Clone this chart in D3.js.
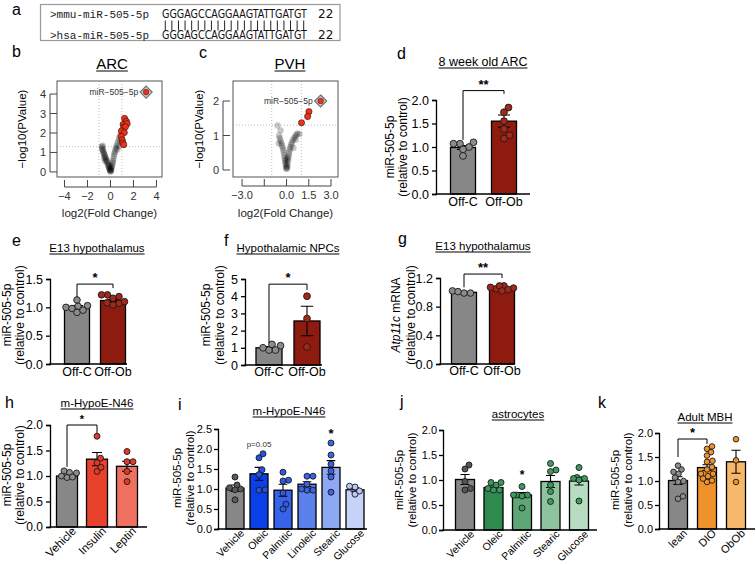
<!DOCTYPE html>
<html><head><meta charset="utf-8">
<script src="https://cdn.jsdelivr.net/npm/d3@7"></script>
<style>body{margin:0;background:#fff}svg{display:block}</style>
</head><body>
<svg id="fig" width="756" height="564"></svg>
<script>
// ================= DATA =================
const seqNames = [">mmu-miR-505-5p", ">hsa-miR-505-5p"];
const seqs = ["GGGAGCCAGGAAGTATTGATGT", "GGGAGCCAGGAAGTATTGATGT"];
const seqLens = ["22", "22"];

// volcano: [log2 fold change, -log10 p]
const arcGray = [[0.00,0.02],[0.03,0.05],[-0.03,0.06],[0.06,0.10],[-0.06,0.11],[0.01,0.14],[-0.10,0.17],[0.09,0.19],[-0.13,0.23],[0.04,0.24],[-0.17,0.29],[0.13,0.30],[-0.20,0.35],[0.16,0.39],[-0.24,0.42],[-0.08,0.33],[-0.28,0.50],[0.19,0.47],[-0.32,0.56],[-0.36,0.62],[0.22,0.57],[-0.40,0.68],[-0.44,0.75],[0.26,0.68],[-0.48,0.81],[-0.52,0.87],[-0.56,0.93],[-0.60,0.99],[-0.63,1.05],[-0.66,1.11],[-0.70,1.17],[-0.72,1.24],[-0.75,1.30],[-0.68,1.35],[0.30,0.82],[0.34,0.93],[0.38,1.03],[0.43,1.14],[0.48,1.24],[0.54,1.34],[0.60,1.46],[0.68,1.60],[0.76,1.74],[0.84,1.90],[0.90,1.56],[0.74,1.30],[0.60,1.15],[-0.55,0.70],[-0.45,0.55]];
const arcUp = [[1.22,2.75],[1.38,2.60],[1.10,2.44],[1.45,2.48],[1.15,2.30],[1.30,2.32],[0.95,2.10],[1.20,2.02],[0.93,1.82],[1.02,1.65],[1.07,1.50],[1.15,1.40]];
const arcMir = [[3.1, 4.1]];
const arcXTicks = [-4, -2, 0, 2, 4];
const arcXTickLabels = ["−4", "−2", "0", "2", "4"];
const arcYTicks = [0, 1, 2, 3, 4];

const pvhGray = [[0.00,0.03],[0.03,0.06],[-0.03,0.07],[0.06,0.11],[-0.05,0.12],[0.02,0.17],[-0.08,0.20],[0.08,0.22],[-0.10,0.27],[0.11,0.30],[-0.12,0.34],[0.13,0.38],[-0.15,0.42],[0.16,0.45],[-0.18,0.50],[0.19,0.53],[-0.22,0.58],[0.22,0.60],[-0.26,0.65],[0.26,0.67],[-0.30,0.71],[0.31,0.73],[-0.35,0.78],[0.36,0.79],[-0.40,0.85],[0.42,0.86],[-0.46,0.92],[0.50,0.92],[-0.50,1.00],[0.58,0.97],[0.66,1.02],[0.74,1.06],[0.88,1.04],[0.62,0.88],[-0.52,0.77],[-0.60,1.29],[-0.40,1.15],[0.46,0.64],[0.05,0.35],[-0.02,0.28]];
const pvhUp = [[1.51,1.69],[1.42,1.55],[1.01,1.37]];
const pvhMir = [[2.3, 2.0]];
const pvhXTicks = [-3, -1.5, 0, 1.5, 3];
const pvhXTickLabels = ["−3.0", "", "0.0", "1.5", "3.0"];
const pvhYTicks = [0, 1, 2];
const mirLabel = "miR−505−5p";
const fcCut = [-1, 1];
const pCut = 1.3;

// d: 8 week old ARC
const dCats = ["Off-C", "Off-Ob"];
const dMeans = [0.99, 1.55];
const dSems = [0.04, 0.13];
const dPts = [[1.07, 1.10, 1.07, 1.0, 0.95, 0.81], [1.84, 1.74, 1.55, 1.38, 1.18, 1.25]];
const dTicks = [0, 0.5, 1.0, 1.5, 2.0];

// e: E13 hypothalamus (miR)
const eCats = ["Off-C", "Off-Ob"];
const eMeans = [1.0, 1.12];
const eSems = [0.03, 0.02];
const ePts = [[1.02, 1.03, 1.13, 1.0, 0.98, 0.91, 0.95], [1.16, 1.19, 1.22, 1.22, 1.07, 1.10, 1.04, 1.08]];
const eTicks = [0, 0.5, 1.0, 1.5];

// f: Hypothalamic NPCs
const fCats = ["Off-C", "Off-Ob"];
const fMeans = [1.0, 2.56];
const fSems = [0.07, 0.86];
const fPts = [[1.12, 0.87, 1.0, 1.2, 0.87], [4.0, 2.7, 1.05]];
const fTicks = [0, 1, 2, 3, 4, 5];

// g: E13 hypothalamus (Atp11c)
const gCats = ["Off-C", "Off-Ob"];
const gMeans = [1.0, 1.06];
const gSems = [0.01, 0.01];
const gPts = [[0.99, 1.02, 1.01, 0.99], [1.06, 1.09, 1.05, 1.07, 1.09, 1.04, 1.02]];
const gTicks = [0, 0.4, 0.8, 1.2];

// h: m-HypoE-N46 hormones
const hCats = ["Vehicle", "Insulin", "Leptin"];
const hMeans = [1.0, 1.33, 1.19];
const hSems = [0.02, 0.13, 0.1];
const hPts = [[1.0, 1.07, 1.1, 1.06, 0.97, 0.98], [1.78, 1.26, 1.09, 1.17, 1.35], [1.48, 1.28, 1.28, 1.09, 0.89]];
const hTicks = [0, 0.5, 1.0, 1.5, 2.0];

// i: m-HypoE-N46 fatty acids
const iCats = ["Vehicle", "Oleic", "Palmitic", "Linoleic", "Stearic", "Glucose"];
const iMeans = [1.02, 1.38, 0.97, 1.12, 1.54, 0.98];
const iSems = [0.08, 0.16, 0.15, 0.06, 0.17, 0.05];
const iPts = [[1.3, 1.0, 1.03, 1.1, 0.73, 0.98], [1.78, 1.88, 1.48, 1.36, 0.97, 0.98], [1.42, 1.22, 1.2, 0.9, 0.62, 0.5], [1.32, 1.32, 1.12, 0.97, 0.97, 1.0], [2.15, 1.85, 1.62, 1.45, 1.3, 0.92], [1.05, 1.07, 0.87, 0.95]];
const iTicks = [0, 0.5, 1.0, 1.5, 2.0, 2.5];

// j: astrocytes
const jCats = ["Vehicle", "Oleic", "Palmitic", "Stearic", "Glucose"];
const jMeans = [1.01, 0.85, 0.7, 0.97, 0.98];
const jSems = [0.1, 0.03, 0.05, 0.12, 0.08];
const jPts = [[1.3, 1.22, 0.97, 0.8, 0.83], [0.9, 0.95, 0.95, 0.8, 0.8, 0.83], [0.87, 0.7, 0.68, 0.7, 0.7, 0.44], [1.33, 1.2, 1.17, 0.77, 0.57, 0.9], [1.25, 1.05, 1.03, 1.03, 1.0, 0.58]];
const jTicks = [0, 0.5, 1.0, 1.5, 2.0];

// k: Adult MBH
const kCats = ["lean", "DIO", "ObOb"];
const kMeans = [1.01, 1.28, 1.4];
const kSems = [0.08, 0.06, 0.24];
const kPts = [[1.19, 1.24, 1.15, 1.32, 0.98, 1.07, 1.0, 0.63, 0.68], [1.67, 1.72, 1.53, 1.6, 1.4, 1.42, 1.24, 1.29, 1.15, 1.15, 0.98, 1.01, 1.1, 1.05], [1.87, 1.43, 0.98]];
const kTicks = [0, 0.5, 1.0, 1.5, 2.0];

// ================= DRAWING =================
const FONT = "'Liberation Sans', Arial, Helvetica, sans-serif";
const svg = d3.select("#fig");
const GRAY = "#878787", DRED = "#8e1b10";

function panelLabel(t, x, y) {
  svg.append("text").attr("x", x).attr("y", y).attr("font-family", FONT).attr("font-size", 16).text(t);
}
function title(t, cx, by, size) {
  const el = svg.append("text").attr("x", cx).attr("y", by).attr("text-anchor", "middle")
    .attr("font-family", FONT).attr("font-size", size).text(t);
  const w = el.node().getComputedTextLength();
  svg.append("line").attr("x1", cx - w / 2).attr("x2", cx + w / 2).attr("y1", by + 2).attr("y2", by + 2)
    .attr("stroke", "#000").attr("stroke-width", 1);
}
function ylab(lines, xs, cy, size) {
  lines.forEach((ln, k) => {
    const t = svg.append("text").attr("transform", `translate(${xs[k]},${cy}) rotate(-90)`)
      .attr("text-anchor", "middle").attr("dominant-baseline", "central")
      .attr("font-family", FONT).attr("font-size", size || 12);
    ln.forEach(seg => t.append("tspan").attr("font-style", seg[1] ? "italic" : "normal").text(seg[0]));
  });
}

// ---- panel a ----
panelLabel("a", 12, 15);
const seqX0 = 162, seqW = 145, rowY = [18, 38.5];
const charW = seqW / seqs[0].length;
const lenX = seqX0 + seqW + 11;
svg.append("rect").attr("x", 40.5).attr("y", 4.5).attr("width", lenX + 22 - 40.5).attr("height", 36)
  .attr("fill", "none").attr("stroke", "#9a9a9a").attr("stroke-width", 1.2);
seqNames.forEach((n, k) => {
  svg.append("text").attr("x", 50).attr("y", rowY[k]).attr("font-family", "'Liberation Mono', 'DejaVu Sans Mono', monospace")
    .attr("font-size", 11).attr("fill", "#222").text(n);
  // sequence squeezed horizontally to a fixed pitch
  const sg = svg.append("g");
  const st = sg.append("text").attr("x", 0).attr("y", 0)
    .attr("font-family", "'DejaVu Sans Condensed', 'DejaVu Sans', sans-serif").attr("font-size", 12.5)
    .attr("fill", "#111").text(seqs[k]);
  const nat = st.node().getComputedTextLength();
  sg.attr("transform", `translate(${seqX0},${rowY[k]}) scale(${seqW / nat},1)`);
  svg.append("text").attr("x", lenX).attr("y", rowY[k]).attr("font-family", "'DejaVu Sans', Verdana, sans-serif")
    .attr("font-size", 12).attr("fill", "#111").text(seqLens[k]);
});
svg.selectAll(null).data(seqs[0].split("")).join("line")
  .attr("x1", (d, i) => seqX0 + (i + 0.5) * charW).attr("x2", (d, i) => seqX0 + (i + 0.5) * charW)
  .attr("y1", 20.5).attr("y2", 30.5).attr("stroke", "#222").attr("stroke-width", 1);

// ---- volcano ----
function volcano(c) {
  const x = d3.scaleLinear().domain(c.xdom).range([c.box[0], c.box[1]]);
  const y = d3.scaleLinear().domain(c.ydom).range([c.box[3], c.box[2]]);
  const g = svg.append("g").attr("font-family", FONT);
  fcCut.forEach(v => g.append("line").attr("x1", x(v)).attr("x2", x(v)).attr("y1", c.box[2]).attr("y2", c.box[3])
    .attr("stroke", "#bdbdbd").attr("stroke-width", 1).attr("stroke-dasharray", "1,2"));
  g.append("line").attr("x1", c.box[0]).attr("x2", c.box[1]).attr("y1", y(pCut)).attr("y2", y(pCut))
    .attr("stroke", "#bdbdbd").attr("stroke-width", 1).attr("stroke-dasharray", "1,2");
  g.selectAll(null).data(c.gray).join("circle").attr("cx", d => x(d[0])).attr("cy", d => y(d[1])).attr("r", 3.2)
    .attr("fill", "#000").attr("fill-opacity", 0.22);
  g.selectAll(null).data(c.up).join("circle").attr("cx", d => x(d[0])).attr("cy", d => y(d[1])).attr("r", 3.1)
    .attr("fill", "#e8341c").attr("stroke", "#3a0a05").attr("stroke-width", 0.6);
  c.mir.forEach(d => {
    const px = x(d[0]), py = y(d[1]);
    g.append("path").attr("d", `M${px},${py - 6}L${px + 6},${py}L${px},${py + 6}L${px - 6},${py}Z`)
      .attr("fill", "#cfcfcf").attr("stroke", "#6e6e6e").attr("stroke-width", 1.2);
    g.append("circle").attr("cx", px).attr("cy", py).attr("r", 2.8).attr("fill", "#e8341c").attr("stroke", "#3a0a05").attr("stroke-width", 0.5);
    g.append("text").attr("x", px - 8).attr("y", py).attr("dominant-baseline", "central").attr("text-anchor", "end")
      .attr("font-size", 8.5).attr("fill", "#333").text(mirLabel);
  });
  g.append("rect").attr("x", c.box[0]).attr("y", c.box[2]).attr("width", c.box[1] - c.box[0]).attr("height", c.box[3] - c.box[2])
    .attr("fill", "none").attr("stroke", "#555").attr("stroke-width", 1);
  g.append("line").attr("x1", x(c.xt[0])).attr("x2", x(c.xt[c.xt.length - 1])).attr("y1", c.xAxisY).attr("y2", c.xAxisY).attr("stroke", "#444");
  c.xt.forEach((v, i) => {
    g.append("line").attr("x1", x(v)).attr("x2", x(v)).attr("y1", c.xAxisY).attr("y2", c.xAxisY - 7).attr("stroke", "#444");
    g.append("text").attr("x", x(v)).attr("y", c.xAxisY + 13).attr("text-anchor", "middle").attr("font-size", 11).attr("fill", "#333").text(c.xtl[i]);
  });
  g.append("line").attr("y1", y(c.yt[0])).attr("y2", y(c.yt[c.yt.length - 1])).attr("x1", c.yAxisX).attr("x2", c.yAxisX).attr("stroke", "#444");
  c.yt.forEach(v => {
    g.append("line").attr("y1", y(v)).attr("y2", y(v)).attr("x1", c.yAxisX).attr("x2", c.yAxisX + 7).attr("stroke", "#444");
    g.append("text").attr("x", c.yAxisX - 4).attr("y", y(v)).attr("dominant-baseline", "central").attr("text-anchor", "end")
      .attr("font-size", 11).attr("fill", "#333").text(String(v));
  });
  g.append("text").attr("x", (c.box[0] + c.box[1]) / 2).attr("y", 217).attr("text-anchor", "middle").attr("font-size", 11.5).attr("fill", "#222").text("log2(Fold Change)");
  ylab([[["−log10(PValue)", false]]], [c.ylabX], 129, 11.5);
  title(c.title, c.titleX, 69, 15);
}

panelLabel("b", 12, 57);
volcano({ box: [57, 162, 81, 177], xdom: [-4.65, 4.48], ydom: [-0.26, 4.67], gray: arcGray, up: arcUp, mir: arcMir,
  xt: arcXTicks, xtl: arcXTickLabels, yt: arcYTicks, xAxisY: 187, yAxisX: 50, ylabX: 22, title: "ARC", titleX: 112 });
panelLabel("c", 199, 58);
volcano({ box: [233, 338, 81, 177], xdom: [-3.61, 3.47], ydom: [-0.203, 2.58], gray: pvhGray, up: pvhUp, mir: pvhMir,
  xt: pvhXTicks, xtl: pvhXTickLabels, yt: pvhYTicks, xAxisY: 186, yAxisX: 223, ylabX: 199, title: "PVH", titleX: 290 });

// ---- bar panels ----
function swarm(vals, y, r, maxOff) {
  const idx = vals.map((_, i) => i).sort((a, b) => vals[a] - vals[b]);
  const placed = [], out = new Array(vals.length).fill(0);
  const minD = 2 * r * 0.92;
  idx.forEach(i => {
    const py = y(vals[i]);
    let chosen = null;
    for (let k = 0; k <= 60 && chosen === null; k++) {
      const cands = k === 0 ? [0] : [k * 0.5, -k * 0.5];
      for (const cc of cands) {
        if (Math.abs(cc) > maxOff) continue;
        if (placed.every(p => (p.x - cc) ** 2 + (p.y - py) ** 2 >= minD * minD)) { chosen = cc; break; }
      }
    }
    if (chosen === null) {
      let best = 0, bd = -1;
      for (let cc = -maxOff; cc <= maxOff; cc += 0.5) {
        const dm = Math.min(...placed.map(p => Math.hypot(p.x - cc, p.y - py)));
        if (dm > bd) { bd = dm; best = cc; }
      }
      chosen = best;
    }
    out[i] = chosen; placed.push({ x: chosen, y: py });
  });
  return out;
}

function barPanel(c) {
  const x = d3.scalePoint().domain(c.cats).range(c.xr);
  const y = d3.scaleLinear().domain([0, c.ymax]).range(c.yr);
  const g = svg.append("g").attr("font-family", FONT);
  const tfs = c.tickFont || 12.5;
  g.selectAll(null).data(c.cats).join("rect")
    .attr("x", d => x(d) - c.bw / 2).attr("y", (d, i) => y(c.means[i])).attr("width", c.bw)
    .attr("height", (d, i) => y(0) - y(c.means[i])).attr("fill", (d, i) => c.colors[i])
    .attr("stroke", "#000").attr("stroke-width", 1.3);
  c.cats.forEach((d, i) => {
    const cx = x(d), m = c.means[i], s = c.sems[i], cw = Math.max(c.bw * 0.24, 4);
    g.append("path").attr("d", `M${cx},${y(m - s)}V${y(m + s)}M${cx - cw},${y(m + s)}H${cx + cw}M${cx - cw},${y(m - s)}H${cx + cw}`)
      .attr("stroke", "#000").attr("stroke-width", 1.1).attr("fill", "none");
  });
  c.cats.forEach((d, i) => {
    const offs = swarm(c.pts[i], y, c.r, c.bw / 2 - 1);
    g.selectAll(null).data(c.pts[i]).join("circle")
      .attr("cx", (v, j) => x(d) + offs[j]).attr("cy", v => y(v)).attr("r", c.r)
      .attr("fill", c.ptColors[i]).attr("stroke", "#1a1a1a").attr("stroke-width", 0.9);
  });
  const ax = g.append("g").attr("transform", `translate(${c.ax},0)`)
    .call(d3.axisLeft(y).tickValues(c.ticks).tickFormat(d3.format(c.fmt)).tickSizeOuter(0).tickSize(4).tickPadding(c.tickPad || 3));
  ax.select(".domain").attr("stroke-width", 1.3);
  ax.selectAll(".tick line").attr("stroke-width", 1.3);
  ax.selectAll("text").attr("font-size", tfs).attr("font-family", FONT).attr("fill", "#000");
  g.append("line").attr("x1", c.ax - 0.65).attr("x2", c.xend).attr("y1", y(0)).attr("y2", y(0))
    .attr("stroke", "#000").attr("stroke-width", 1.3);
  c.cats.forEach(d => {
    if (c.rot) {
      g.append("text").attr("transform", `translate(${x(d) + 7},${y(0) + 2}) rotate(-45)`)
        .attr("text-anchor", "end").attr("dominant-baseline", "central").attr("font-size", c.rotFont || 11).text(d);
    } else {
      g.append("text").attr("x", x(d)).attr("y", c.labY).attr("text-anchor", "middle").attr("font-size", 12.5).text(d);
    }
  });
  if (c.bracket) {
    const b = c.bracket, x1 = x(c.cats[b.from]), x2 = x(c.cats[b.to]);
    g.append("path").attr("d", `M${x1},${y(b.left)}V${y(b.top)}H${x2}V${y(b.right)}`)
      .attr("stroke", "#000").attr("stroke-width", 1).attr("fill", "none");
    g.append("text").attr("x", (x1 + x2) / 2).attr("y", y(b.top) - 2).attr("text-anchor", "middle")
      .attr("font-size", b.size || 13).attr("font-weight", "bold").text(b.text);
  }
  (c.notes || []).forEach(n => {
    g.append("text").attr("x", x(c.cats[n.cat])).attr("y", y(n.at)).attr("text-anchor", "middle")
      .attr("font-size", n.size).attr("font-weight", n.bold ? "bold" : "normal").attr("fill", n.color || "#000").text(n.text);
  });
  title(c.title, c.titleX, c.titleY, c.titleSize || 11.5);
  ylab(c.ylab, c.ylabX, c.ylabY, c.ylabSize || 12);
}

const relLab = [[["miR-505-5p", false]], [["(relative to control)", false]]];

panelLabel("d", 397, 59);
barPanel({ cats: dCats, means: dMeans, sems: dSems, pts: dPts, ticks: dTicks, fmt: ".1f", ymax: 2, xr: [463, 504], yr: [194, 100],
  bw: 25, r: 3.4, ax: 436, xend: 530, colors: [GRAY, DRED], ptColors: ["#8c8c8c", "#a3281b"], labY: 206,
  bracket: { from: 0, to: 1, top: 2.2, left: 1.15, right: 2.13, text: "**" },
  title: "8 week old ARC", titleX: 483, titleY: 66, titleSize: 12.5, ylab: relLab, ylabX: [390, 403], ylabY: 147 });

panelLabel("e", 12, 246);
barPanel({ cats: eCats, means: eMeans, sems: eSems, pts: ePts, ticks: eTicks, fmt: ".1f", ymax: 1.5, xr: [77, 113], yr: [364, 279],
  bw: 25, r: 3.3, ax: 50, xend: 127, colors: [GRAY, DRED], ptColors: ["#8c8c8c", "#a3281b"], labY: 376,
  bracket: { from: 0, to: 1, top: 1.41, left: 1.18, right: 1.34, text: "*" },
  title: "E13 hypothalamus", titleX: 97, titleY: 252, ylab: relLab, ylabX: [7, 20], ylabY: 315 });

panelLabel("f", 224, 246);
barPanel({ cats: fCats, means: fMeans, sems: fSems, pts: fPts, ticks: fTicks, fmt: "d", ymax: 5, xr: [269, 307], yr: [365, 279],
  bw: 26, r: 3.4, ax: 245, xend: 322, colors: [GRAY, DRED], ptColors: ["#8c8c8c", "#a3281b"], labY: 376,
  bracket: { from: 0, to: 1, top: 4.7, left: 1.28, right: 4.36, text: "*" },
  title: "Hypothalamic NPCs", titleX: 288, titleY: 252, ylab: relLab, ylabX: [206, 220], ylabY: 315 });

panelLabel("g", 398, 244);
barPanel({ cats: gCats, means: gMeans, sems: gSems, pts: gPts, ticks: gTicks, fmt: ".1f", ymax: 1.2, xr: [464, 502], yr: [364, 278],
  bw: 25, r: 3.3, ax: 440, xend: 515, colors: [GRAY, DRED], ptColors: ["#8c8c8c", "#a3281b"], labY: 375,
  bracket: { from: 0, to: 1, top: 1.255, left: 1.07, right: 1.2, text: "**" },
  title: "E13 hypothalamus", titleX: 483, titleY: 250,
  ylab: [[["Atp11c", true], [" mRNA", false]], [["(relative to control)", false]]], ylabX: [396, 411], ylabY: 315 });

panelLabel("h", 5, 408);
barPanel({ cats: hCats, means: hMeans, sems: hSems, pts: hPts, ticks: hTicks, fmt: ".1f", ymax: 2, xr: [67, 127], yr: [527, 425],
  bw: 21, r: 3, ax: 50, xend: 147, colors: [GRAY, "#e8412c", "#ef7060"], ptColors: ["#8c8c8c", "#e23a28", "#e23a28"], rot: true,
  tickFont: 12, rotFont: 11.5,
  bracket: { from: 0, to: 1, top: 2.0, left: 1.18, right: 1.84, text: "*", size: 11 },
  title: "m-HypoE-N46", titleX: 97, titleY: 407, ylab: relLab, ylabX: [7, 20], ylabY: 475 });

panelLabel("i", 178, 410);
barPanel({ cats: iCats, means: iMeans, sems: iSems, pts: iPts, ticks: iTicks, fmt: ".1f", ymax: 2.5, xr: [235, 355], yr: [529, 429],
  bw: 18, r: 3, ax: 218, xend: 367, colors: [GRAY, "#0b3fe8", "#3762ea", "#5d81ec", "#8fa8f2", "#c6d2f8"],
  ptColors: ["#5a5a5a", "#2552e6", "#2f5ae6", "#3a63e8", "#3a63e8", "#b9c8f5"], rot: true,
  tickFont: 11, tickPad: 2, ylabSize: 11.5, rotFont: 10.5,
  notes: [{ cat: 1, at: 2.06, text: "p=0.05", size: 8, color: "#333" }, { cat: 4, at: 2.27, text: "*", size: 13, bold: true }],
  title: "m-HypoE-N46", titleX: 289, titleY: 415, ylab: relLab, ylabX: [177, 190], ylabY: 478 });

panelLabel("j", 400, 407);
barPanel({ cats: jCats, means: jMeans, sems: jSems, pts: jPts, ticks: jTicks, fmt: ".1f", ymax: 2, xr: [465, 579], yr: [530, 430],
  bw: 19, r: 3, ax: 443, xend: 597, colors: [GRAY, "#2f8a4f", "#5fa676", "#8fc39f", "#b7dcc2"],
  ptColors: ["#555555", "#3d9a5e", "#3d9a5e", "#3d9a5e", "#3d9a5e"], rot: true,
  tickFont: 11, tickPad: 2, ylabSize: 11.5, rotFont: 10.5,
  notes: [{ cat: 2, at: 1.02, text: "*", size: 12, bold: true }],
  title: "astrocytes", titleX: 518, titleY: 418, ylab: relLab, ylabX: [399, 412], ylabY: 480 });

panelLabel("k", 598, 408);
barPanel({ cats: kCats, means: kMeans, sems: kSems, pts: kPts, ticks: kTicks, fmt: ".1f", ymax: 2, xr: [678, 736], yr: [529, 433],
  bw: 19, r: 2.8, ax: 659, xend: 755, colors: [GRAY, "#f0922b", "#f6b96c"], ptColors: ["#8c8c8c", "#f0922b", "#f0922b"], rot: true,
  tickFont: 11, tickPad: 2, ylabSize: 11.5, rotFont: 11,
  bracket: { from: 0, to: 1, top: 1.875, left: 1.5, right: 1.77, text: "*" },
  title: "Adult MBH", titleX: 705, titleY: 421, ylab: relLab, ylabX: [615, 628], ylabY: 480 });
</script>
</body></html>
